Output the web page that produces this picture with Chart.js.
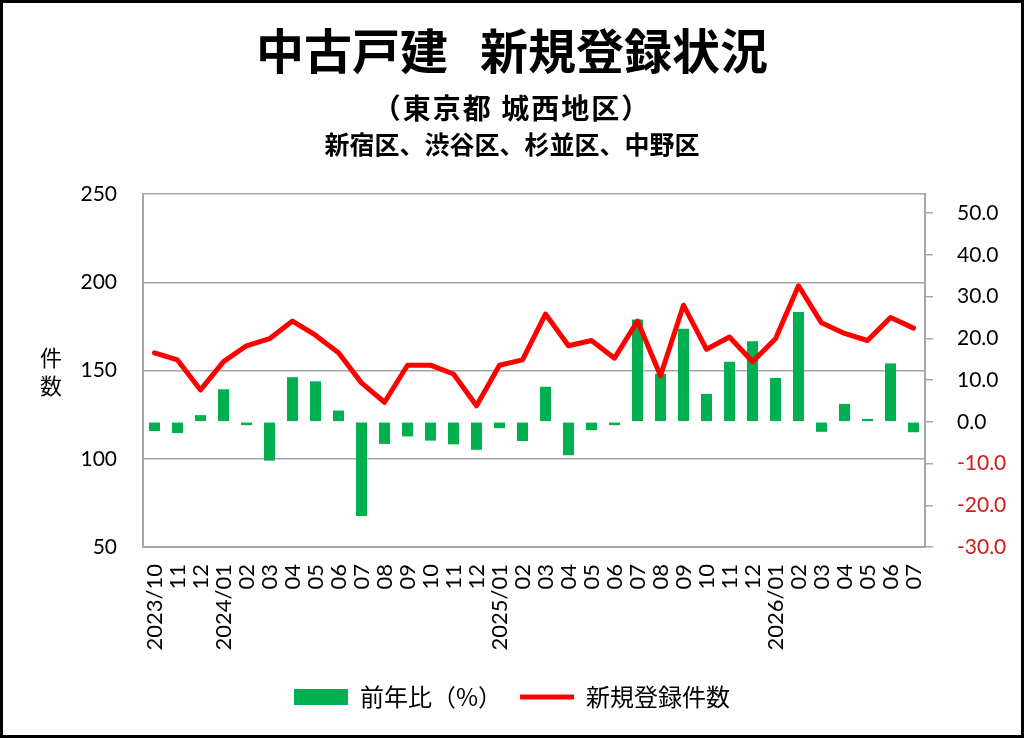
<!DOCTYPE html>
<html>
<head>
<meta charset="utf-8">
<script src="https://cdn.jsdelivr.net/npm/chart.js@4/dist/chart.umd.min.js"></script>
<style>
  html, body { margin: 0; padding: 0; background: #fff; }
  #wrap { position: relative; width: 1024px; height: 738px; overflow: hidden; }
  #frame { position: absolute; left: 0; top: 0; width: 1024px; height: 738px; box-sizing: border-box; border: 3px solid #000; pointer-events: none; }
  canvas { position: absolute; left: 0; top: 0; }
  .txt { position: absolute; left: 0; width: 1024px; text-align: center; color: #000; font-family: "Noto Sans CJK JP", sans-serif; line-height: 1; white-space: pre; }
  #title { top: 24px; font-size: 48px; font-weight: 700; }
  #title .gap { display: inline-block; width: 32px; }
  #sub1 { top: 93px; font-size: 28px; font-weight: 700; letter-spacing: 2px; }
  #sub2 { top: 131px; font-size: 25px; font-weight: 700; }
  #ytitle { position: absolute; left: 38px; top: 342px; width: 26px; font-family: "Noto Sans CJK JP", sans-serif; font-size: 22px; line-height: 28px; text-align: center; color: #000; }
</style>
</head>
<body>
<div id="wrap">
  <canvas id="chart" width="1024" height="738"></canvas>
  <div class="txt" id="title">中古戸建<span class="gap"></span>新規登録状況</div>
  <div class="txt" id="sub1">（東京都 城西地区）</div>
  <div class="txt" id="sub2">新宿区、渋谷区、杉並区、中野区</div>
  <div id="ytitle">件<br>数</div>
  <div id="frame"></div>
</div>
<script>
// months on the x axis
const months = ["2023/10", "11", "12",
  "2024/01", "02", "03", "04", "05", "06", "07", "08", "09", "10", "11", "12",
  "2025/01", "02", "03", "04", "05", "06", "07", "08", "09", "10", "11", "12",
  "2026/01", "02", "03", "04", "05", "06", "07"];

// 新規登録件数 (left axis)
const counts = [160, 156, 139, 155, 164, 168, 178, 170, 160, 143, 132, 153, 153, 148, 130,
  153, 156, 182, 164, 167, 157, 178, 147, 187, 162, 169, 155,
  168, 198, 177, 171, 167, 180, 174];

// 前年比 % (right axis)
const yoy = [-2.2, -2.7, 1.6, 7.8, -0.8, -9.3, 10.7, 9.7, 2.7, -22.6, -5.3, -3.5, -4.5, -5.4, -6.7,
  -1.5, -4.6, 8.4, -8.0, -2.0, -0.8, 24.5, 11.5, 22.3, 6.7, 14.4, 19.3,
  10.5, 26.3, -2.4, 4.3, 0.7, 14.0, -2.5];

// tick labels shown on the right axis
const rightTickValues = [-30, -20, -10, 0, 10, 20, 30, 40, 50];
const leftTicks = { min: 50, max: 250, step: 50 };
const rightRange = { min: -30, max: 54.6 };

const numFont = "Lato, 'Noto Sans', sans-serif";
const jpFont = "'Noto Sans CJK JP', sans-serif";
const gridGray = "#a6a6a6";

const ctx = document.getElementById("chart").getContext("2d");
const chart = new Chart(ctx, {
  type: "bar",
  data: {
    labels: months,
    datasets: [
      {
        type: "bar",
        label: "前年比（%）",
        data: yoy,
        yAxisID: "y1",
        backgroundColor: "#00b050",
        borderWidth: 0,
        barPercentage: 0.48,
        categoryPercentage: 1.0,
        pointStyle: "rect",
        order: 2
      },
      {
        type: "line",
        label: "新規登録件数",
        data: counts,
        yAxisID: "y",
        borderColor: "#ff0000",
        backgroundColor: "#ff0000",
        borderWidth: 5,
        pointRadius: 0,
        tension: 0,
        borderJoinStyle: "round",
        borderCapStyle: "round",
        pointStyle: "line",
        order: 1
      }
    ]
  },
  options: {
    responsive: false,
    animation: false,
    layout: { padding: { top: 194, left: 0, right: 0, bottom: 19 } },
    plugins: {
      tooltip: { enabled: false },
      title: { display: false },
      legend: {
        position: "bottom",
        labels: {
          usePointStyle: true,
          pointStyleWidth: 54,
          boxHeight: 16,
          padding: 18,
          color: "#000",
          font: { family: jpFont, size: 24 },
          sort: (a, b) => a.datasetIndex - b.datasetIndex
        }
      }
    },
    scales: {
      x: {
        offset: true,
        grid: { display: true, drawOnChartArea: false, drawTicks: false },
        border: { display: true, color: gridGray, width: 2 },
        ticks: {
          autoSkip: false,
          maxRotation: 90,
          minRotation: 90,
          padding: 17,
          color: "#000",
          font: { family: numFont, size: 22 }
        },
        afterFit: s => { s.height = 120; }
      },
      y: {
        position: "left",
        min: leftTicks.min,
        max: leftTicks.max,
        grid: { color: gridGray, lineWidth: 1.5, drawTicks: false },
        border: { display: true, color: gridGray, width: 2 },
        ticks: {
          stepSize: leftTicks.step,
          padding: 26,
          color: "#000",
          font: { family: numFont, size: 21 }
        },
        afterFit: s => { s.width = 143; }
      },
      y1: {
        position: "right",
        min: rightRange.min,
        max: rightRange.max,
        grid: { display: true, drawOnChartArea: false, drawTicks: true, tickLength: 8, color: gridGray, lineWidth: 1.5 },
        border: { display: true, color: gridGray, width: 2 },
        ticks: {
          padding: 24,
          color: c => (c.tick && c.tick.value < 0 ? "#d01a1a" : "#000"),
          font: { family: numFont, size: 21 },
          callback: v => Number(v).toFixed(1)
        },
        afterBuildTicks: s => {
          s.ticks = rightTickValues.map(v => ({ value: v }));
        },
        afterFit: s => { s.width = 99; }
      }
    }
  }
});
</script>
</body>
</html>
